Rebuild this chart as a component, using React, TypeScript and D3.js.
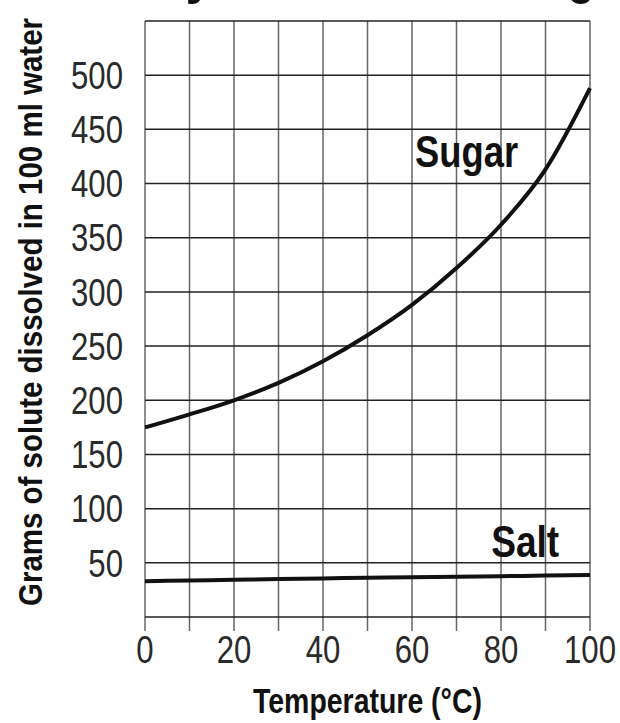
import { useRef, useEffect } from 'react'
import * as d3 from 'd3'

const temps = [0, 10, 20, 30, 40, 50, 60, 70, 80, 90, 100]
const sugar = [175, 187, 200, 216, 236, 260, 288, 322, 362, 413, 488]
const salt = [33, 33.7, 34.4, 35, 35.6, 36.2, 36.7, 37.2, 37.7, 38.2, 38.7]
const yTickLabels = [50, 100, 150, 200, 250, 300, 350, 400, 450, 500]
const xTickLabels = [0, 20, 40, 60, 80, 100]

const W = 620
const H = 723
const margin = { top: 21, right: 30, bottom: 106, left: 145 }
const FONT = '"Liberation Sans", Arial, sans-serif'
const NARROW_X = 0.82

export default function App() {
  const svgRef = useRef<SVGSVGElement>(null)

  useEffect(() => {
    if (!svgRef.current) return
    const bw = W - margin.left - margin.right
    const bh = H - margin.top - margin.bottom

    const svg = d3.select(svgRef.current)
    svg.selectAll('*').remove()

    const x = d3.scaleLinear().domain([0, 100]).range([0, bw])
    const y = d3.scaleLinear().domain([0, 550]).range([bh, 0])

    // cut-off title, only descenders show
    const title = svg.append('g').attr('font-family', FONT).attr('font-weight', 'bold')
      .attr('font-size', 54).attr('fill', '#111')
    title.append('text').attr('x', 214).attr('y', -7).attr('text-anchor', 'end')
      .attr('textLength', 230).attr('lengthAdjust', 'spacingAndGlyphs').text('Solubility')
    title.append('text').attr('x', 595).attr('y', -7).attr('text-anchor', 'end')
      .attr('textLength', 230).attr('lengthAdjust', 'spacingAndGlyphs').text('Dissolving')

    const g = svg.append('g').attr('transform', `translate(${margin.left},${margin.top})`)

    // vertical grid (runs below the plot as ticks)
    g.append('g')
      .selectAll('line')
      .data(d3.range(0, 101, 10))
      .join('line')
      .attr('x1', (d) => x(d))
      .attr('x2', (d) => x(d))
      .attr('y1', 0)
      .attr('y2', bh + 14)
      .attr('stroke', '#666')
      .attr('stroke-width', 1.5)

    // horizontal grid
    g.append('g')
      .selectAll('line')
      .data(d3.range(0, 551, 50))
      .join('line')
      .attr('x1', 0)
      .attr('x2', bw)
      .attr('y1', (d) => y(d))
      .attr('y2', (d) => y(d))
      .attr('stroke', '#222')
      .attr('stroke-width', 1.5)

    // tick labels, squeezed to look condensed
    g.append('g')
      .selectAll('text')
      .data(yTickLabels)
      .join('text')
      .attr('transform', (d) => `translate(-22,${y(d)}) scale(${NARROW_X},1)`)
      .attr('dy', '0.36em')
      .attr('text-anchor', 'end')
      .attr('font-family', FONT)
      .attr('font-size', 38)
      .attr('fill', '#2a2a2a')
      .text((d) => d)

    g.append('g')
      .selectAll('text')
      .data(xTickLabels)
      .join('text')
      .attr('transform', (d) => `translate(${x(d)},${bh + 46}) scale(${NARROW_X},1)`)
      .attr('text-anchor', 'middle')
      .attr('font-family', FONT)
      .attr('font-size', 38)
      .attr('fill', '#2a2a2a')
      .text((d) => d)

    // curves
    const line = d3
      .line<number>()
      .x((_, i) => x(temps[i]))
      .y((d) => y(d))
      .curve(d3.curveMonotoneX)

    g.append('path').attr('d', line(sugar)).attr('fill', 'none')
      .attr('stroke', '#111').attr('stroke-width', 4)
    g.append('path').attr('d', line(salt)).attr('fill', 'none')
      .attr('stroke', '#111').attr('stroke-width', 4)

    // series labels
    g.append('text').attr('x', x(60.7)).attr('y', y(415))
      .attr('font-family', FONT).attr('font-weight', 'bold').attr('font-size', 45)
      .attr('textLength', 103).attr('lengthAdjust', 'spacingAndGlyphs')
      .attr('fill', '#111').text('Sugar')
    g.append('text').attr('x', x(77.8)).attr('y', y(55))
      .attr('font-family', FONT).attr('font-weight', 'bold').attr('font-size', 45)
      .attr('textLength', 68).attr('lengthAdjust', 'spacingAndGlyphs')
      .attr('fill', '#111').text('Salt')

    // axis titles
    svg.append('text')
      .attr('x', margin.left + bw / 2)
      .attr('y', 713)
      .attr('text-anchor', 'middle')
      .attr('font-family', FONT)
      .attr('font-weight', 'bold')
      .attr('font-size', 35)
      .attr('textLength', 229)
      .attr('lengthAdjust', 'spacingAndGlyphs')
      .attr('fill', '#111')
      .text('Temperature (°C)')

    svg.append('text')
      .attr('transform', 'translate(42,312) rotate(-90)')
      .attr('text-anchor', 'middle')
      .attr('font-family', FONT)
      .attr('font-weight', 'bold')
      .attr('font-size', 34)
      .attr('textLength', 588)
      .attr('lengthAdjust', 'spacingAndGlyphs')
      .attr('fill', '#111')
      .text('Grams of solute dissolved in 100 ml water')
  }, [])

  return (
    <svg
      ref={svgRef}
      width={W}
      height={H}
      style={{ position: 'absolute', left: 0, top: 0, background: '#fff' }}
    />
  )
}
